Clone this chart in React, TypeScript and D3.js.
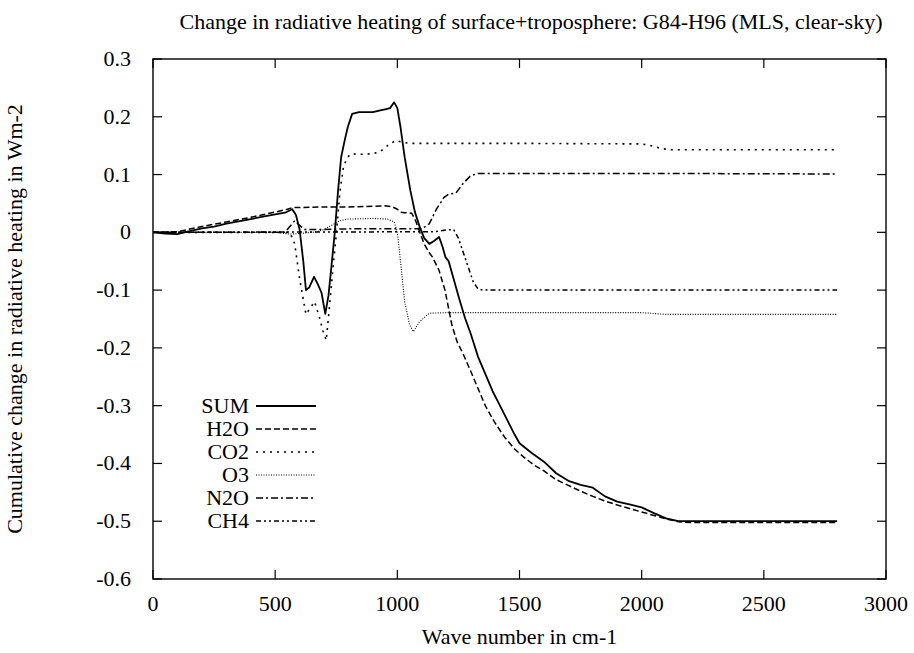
import React from "react";
import * as d3 from "d3";

const xTicks = [0, 500, 1000, 1500, 2000, 2500, 3000];
const yTicks = [0.3, 0.2, 0.1, 0, -0.1, -0.2, -0.3, -0.4, -0.5, -0.6];
const yTickLabels = ["0.3", "0.2", "0.1", "0", "-0.1", "-0.2", "-0.3", "-0.4", "-0.5", "-0.6"];

const sumX = [0, 50, 100, 150, 200, 250, 300, 350, 400, 450, 500, 540, 570, 585, 600, 615, 626, 640, 659, 675, 690, 705, 718, 730, 744, 757, 770, 785, 797, 815, 843, 900, 930, 950, 970, 987, 1000, 1013, 1030, 1053, 1072, 1092, 1110, 1131, 1150, 1171, 1185, 1197, 1210, 1230, 1250, 1276, 1300, 1330, 1360, 1390, 1420, 1450, 1480, 1500, 1550, 1600, 1650, 1700, 1750, 1800, 1850, 1900, 1950, 2000, 2050, 2100, 2150, 2200, 2300, 2500, 2800];
const sumY = [0, -0.002, -0.003, 0.002, 0.007, 0.01, 0.015, 0.019, 0.023, 0.027, 0.031, 0.034, 0.04, 0.03, 0.005, -0.05, -0.1, -0.095, -0.077, -0.09, -0.105, -0.141, -0.11, -0.06, 0.0, 0.07, 0.13, 0.16, 0.182, 0.205, 0.208, 0.208, 0.211, 0.213, 0.215, 0.225, 0.215, 0.182, 0.13, 0.073, 0.035, 0.009, -0.01, -0.02, -0.015, -0.008, -0.025, -0.043, -0.05, -0.08, -0.11, -0.147, -0.175, -0.215, -0.245, -0.275, -0.3, -0.325, -0.35, -0.365, -0.382, -0.397, -0.417, -0.43, -0.437, -0.442, -0.457, -0.466, -0.471, -0.476, -0.486, -0.495, -0.5, -0.5, -0.5, -0.5, -0.5];

const h2oX = [0, 100, 200, 300, 400, 500, 550, 574, 600, 700, 800, 900, 947, 980, 1000, 1013, 1030, 1059, 1075, 1092, 1110, 1130, 1144, 1170, 1195, 1223, 1245, 1269, 1300, 1330, 1360, 1400, 1440, 1480, 1520, 1560, 1600, 1650, 1700, 1750, 1800, 1850, 1900, 1950, 2000, 2050, 2100, 2150, 2200, 2800];
const h2oY = [0, 0.001, 0.01, 0.018, 0.026, 0.035, 0.04, 0.043, 0.043, 0.044, 0.044, 0.045, 0.046, 0.044, 0.04, 0.035, 0.034, 0.033, 0.02, 0, -0.02, -0.035, -0.043, -0.065, -0.1, -0.16, -0.19, -0.21, -0.24, -0.27, -0.3, -0.33, -0.355, -0.375, -0.39, -0.403, -0.413, -0.428, -0.438, -0.448, -0.457, -0.465, -0.472, -0.478, -0.484, -0.49, -0.496, -0.501, -0.502, -0.502];

const co2X = [0, 500, 560, 580, 600, 626, 645, 661, 680, 695, 709, 722, 737, 751, 765, 780, 797, 810, 843, 900, 930, 960, 993, 1020, 1050, 1100, 1500, 2000, 2040, 2080, 2120, 2800];
const co2Y = [0, 0, 0, -0.02, -0.08, -0.142, -0.13, -0.12, -0.145, -0.17, -0.187, -0.13, -0.06, 0, 0.07, 0.115, 0.13, 0.136, 0.135, 0.136, 0.14, 0.15, 0.159, 0.156, 0.154, 0.154, 0.154, 0.153, 0.15, 0.145, 0.143, 0.143];

const o3X = [0, 500, 560, 600, 650, 672, 700, 730, 764, 800, 900, 960, 987, 1000, 1013, 1030, 1050, 1066, 1090, 1131, 1200, 2000, 2100, 2800];
const o3Y = [0, 0, -0.003, -0.002, 0, 0.001, 0.005, 0.012, 0.02, 0.023, 0.024, 0.023, 0.018, 0.0, -0.05, -0.12, -0.16, -0.172, -0.155, -0.14, -0.139, -0.139, -0.142, -0.142];

const n2oX = [0, 540, 560, 580, 600, 620, 700, 800, 1000, 1100, 1131, 1160, 1190, 1210, 1240, 1270, 1300, 1330, 1360, 2000, 2800];
const n2oY = [0, 0, 0.01, 0.02, 0.012, 0.005, 0.005, 0.006, 0.006, 0.006, 0.015, 0.04, 0.06, 0.066, 0.068, 0.085, 0.098, 0.102, 0.102, 0.102, 0.101];

const ch4X = [0, 1150, 1200, 1230, 1250, 1270, 1290, 1310, 1330, 1350, 1400, 2800];
const ch4Y = [0, 0.001, 0.004, 0.005, -0.01, -0.035, -0.06, -0.085, -0.098, -0.1, -0.1, -0.1];

const seriesNames = ["SUM", "H2O", "CO2", "O3", "N2O", "CH4"];

export default function App() {
  const W = 914, H = 653;
  const left = 153, right = 886, top = 59, bottom = 579;
  const x = d3.scaleLinear().domain([0, 3000]).range([left, right]);
  const y = d3.scaleLinear().domain([-0.6, 0.3]).range([bottom, top]);
  const line = d3.line<[number, number]>().x(d => x(d[0])).y(d => y(d[1]));
  const zip = (a: number[], b: number[]) => a.map((v, i) => [v, b[i]] as [number, number]);

  const series = [
    { name: seriesNames[0], d: zip(sumX, sumY), dash: "none", w: 1.8 },
    { name: seriesNames[1], d: zip(h2oX, h2oY), dash: "6,3", w: 1.5 },
    { name: seriesNames[2], d: zip(co2X, co2Y), dash: "2,5", w: 1.6 },
    { name: seriesNames[3], d: zip(o3X, o3Y), dash: "1,1.5", w: 1.1 },
    { name: seriesNames[4], d: zip(n2oX, n2oY), dash: "7,3,2,3", w: 1.5 },
    { name: seriesNames[5], d: zip(ch4X, ch4Y), dash: "5,3,2,3,2,3", w: 1.5 },
  ];

  const font = "'Liberation Serif', 'Times New Roman', serif";
  const fs = 22;

  return (
    <svg width={W} height={H} style={{ position: "absolute", left: 0, top: 0, background: "#fff" }} fontFamily={font} fontSize={fs}>
      <rect x={0} y={0} width={W} height={H} fill="#fff" />
      <text x={531} y={29} textAnchor="middle">
        Change in radiative heating of surface+troposphere: G84-H96 (MLS, clear-sky)
      </text>
      {xTicks.map(t => (
        <g key={"x" + t}>
          <line x1={x(t)} x2={x(t)} y1={bottom} y2={bottom - 9} stroke="#000" strokeWidth={1.2} />
          <line x1={x(t)} x2={x(t)} y1={top} y2={top + 9} stroke="#000" strokeWidth={1.2} />
          <text x={x(t)} y={bottom + 32} textAnchor="middle">{t}</text>
        </g>
      ))}
      {yTicks.map((t, i) => (
        <g key={"y" + t}>
          <line x1={left} x2={left + 9} y1={y(t)} y2={y(t)} stroke="#000" strokeWidth={1.2} />
          <line x1={right} x2={right - 9} y1={y(t)} y2={y(t)} stroke="#000" strokeWidth={1.2} />
          <text x={left - 22} y={y(t) + 7} textAnchor="end">{yTickLabels[i]}</text>
        </g>
      ))}
      <text x={(left + right) / 2} y={644} textAnchor="middle">Wave number in cm-1</text>
      <text transform={`translate(22,${(top + bottom) / 2}) rotate(-90)`} textAnchor="middle">
        Cumulative change in radiative heating in Wm-2
      </text>
      <g clipPath="url(#clip)">
        {series.map(s => (
          <path key={s.name} d={line(s.d) || ""} fill="none" stroke="#000" strokeWidth={s.w}
            strokeDasharray={s.dash === "none" ? undefined : s.dash} strokeLinejoin="round" />
        ))}
      </g>
      <defs>
        <clipPath id="clip">
          <rect x={left} y={top} width={right - left} height={bottom - top} />
        </clipPath>
      </defs>
      {series.map((s, i) => (
        <g key={"lg" + s.name}>
          <text x={249} y={406 + i * 23 + 7} textAnchor="end">{s.name}</text>
          <line x1={256} x2={316} y1={406 + i * 23} y2={406 + i * 23} stroke="#000" strokeWidth={s.w}
            strokeDasharray={s.dash === "none" ? undefined : s.dash} />
        </g>
      ))}
      <rect x={left} y={top} width={right - left} height={bottom - top} fill="none" stroke="#000" strokeWidth={1.4} />
    </svg>
  );
}
